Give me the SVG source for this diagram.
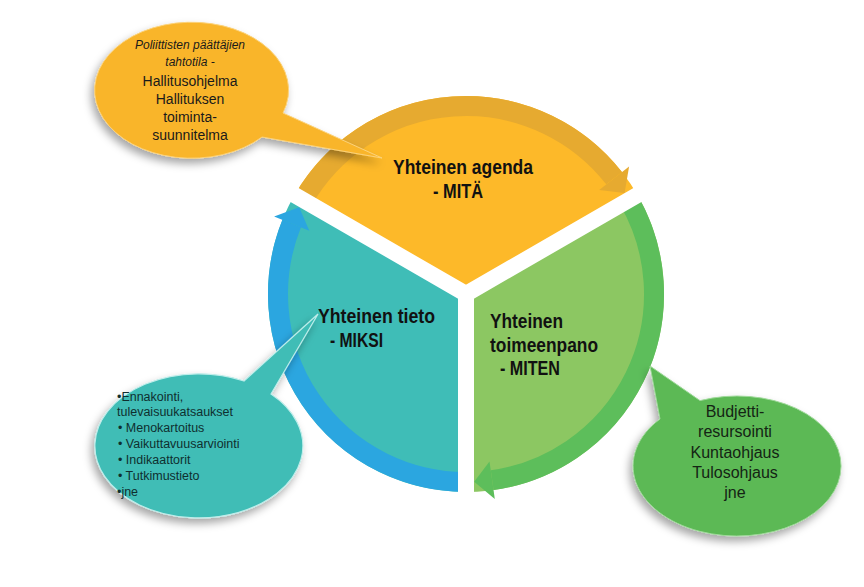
<svg xmlns="http://www.w3.org/2000/svg" width="864" height="587" viewBox="0 0 864 587">
<defs>
<style>
.lbl{font-family:"Liberation Sans",Arial,sans-serif;font-weight:bold;font-size:21px;fill:#111;}
.bt{font-family:"Liberation Sans",Arial,sans-serif;font-size:14px;fill:#1a1a1a;text-anchor:middle;}
.bi{font-style:italic;font-size:12px;}
.tt{font-family:"Liberation Sans",Arial,sans-serif;font-size:12.5px;fill:#0f2f2f;}
.gt{font-family:"Liberation Sans",Arial,sans-serif;font-size:16px;fill:#142414;text-anchor:middle;}
.band{fill:none;stroke-width:20;}
.gap{stroke:#fff;stroke-width:16;stroke-linecap:round;}
</style>
<filter id="sh" x="-20%" y="-20%" width="140%" height="150%">
<feDropShadow dx="-3" dy="5" stdDeviation="4" flood-color="#000" flood-opacity="0.35"/>
</filter>
</defs>
<rect width="864" height="587" fill="#fff"/>

<g id="node-agenda">
<path d="M466,294 L294.5,195 A198,198 0 0 1 637.5,195 Z" fill="#FDB929"/>
<text class="lbl" x="393" y="174" textLength="140" lengthAdjust="spacingAndGlyphs">Yhteinen agenda</text>
<text class="lbl" x="433" y="198" textLength="50" lengthAdjust="spacingAndGlyphs">- MITÄ</text>
</g>
<g id="node-toimeenpano">
<path d="M466,294 L637.5,195 A198,198 0 0 1 466,492 Z" fill="#8CC762"/>
<text class="lbl" x="490" y="328" textLength="73" lengthAdjust="spacingAndGlyphs">Yhteinen</text>
<text class="lbl" x="490" y="352" textLength="108" lengthAdjust="spacingAndGlyphs">toimeenpano</text>
<text class="lbl" x="500" y="375" textLength="60" lengthAdjust="spacingAndGlyphs">- MITEN</text>
</g>
<g id="node-tieto">
<path d="M466,294 L466,492 A198,198 0 0 1 294.5,195 Z" fill="#3FBDB7"/>
<text class="lbl" x="318" y="323" textLength="117" lengthAdjust="spacingAndGlyphs">Yhteinen tieto</text>
<text class="lbl" x="330" y="347" textLength="53" lengthAdjust="spacingAndGlyphs">- MIKSI</text>
</g>

<g id="connectors">
<path class="band" d="M303.2,200 A188,188 0 0 1 614.1,178.2" stroke="#E6AA30"/>
<polygon points="629.1,166.6 624.6,193.0 599.2,190.0" fill="#E6AA30"/>
<path class="band" d="M628.8,200 A188,188 0 0 1 492.2,480.2" stroke="#5DBE5B"/>
<polygon points="494.8,499.0 474.2,481.8 489.5,461.4" fill="#5DBE5B"/>
<path class="band" d="M466,482 A188,188 0 0 1 291.7,223.6" stroke="#2BA6E0"/>
<polygon points="274.1,216.5 299.2,207.2 309.3,230.7" fill="#2BA6E0"/>
</g>

<g id="gaps">
<line class="gap" x1="466" y1="294" x2="279.8" y2="186.5"/>
<line class="gap" x1="466" y1="294" x2="652.2" y2="186.5"/>
<line class="gap" x1="466" y1="294" x2="466" y2="509"/>
</g>

<g id="callout-agenda">
<path d="M283,113 L382,158 L262,137 A97,68 0 1 1 283,113 Z" fill="#F9B52C" stroke="#FBD27A" stroke-width="1" filter="url(#sh)"/>
<text class="bt bi" x="190" y="49">Poliittisten päättäjien</text>
<text class="bt bi" x="190" y="66">tahtotila -</text>
<text class="bt" x="190" y="86">Hallitusohjelma</text>
<text class="bt" x="190" y="104">Hallituksen</text>
<text class="bt" x="190" y="122">toiminta-</text>
<text class="bt" x="190" y="140">suunnitelma</text>
</g>

<g id="callout-tieto">
<path d="M244,381 L318,314 L271,394 A104,72 0 1 1 244,381 Z" fill="#3FBDB6" stroke="#BFEDEA" stroke-width="1.2" filter="url(#sh)"/>
<text class="tt" x="117" y="401">•Ennakointi,</text>
<text class="tt" x="117" y="416">tulevaisuukatsaukset</text>
<text class="tt" x="118" y="432">• Menokartoitus</text>
<text class="tt" x="118" y="448">• Vaikuttavuusarviointi</text>
<text class="tt" x="118" y="464">• Indikaattorit</text>
<text class="tt" x="118" y="480">• Tutkimustieto</text>
<text class="tt" x="117" y="496">•jne</text>
</g>

<g id="callout-toimeenpano">
<path d="M700,400.6 A104,70 0 1 1 660,419 L650,366 Z" fill="#5CB955" stroke="#9FD99A" stroke-width="1" filter="url(#sh)"/>
<text class="gt" x="735" y="417">Budjetti-</text>
<text class="gt" x="735" y="437">resursointi</text>
<text class="gt" x="735" y="458">Kuntaohjaus</text>
<text class="gt" x="735" y="478">Tulosohjaus</text>
<text class="gt" x="735" y="498">jne</text>
</g>
</svg>
